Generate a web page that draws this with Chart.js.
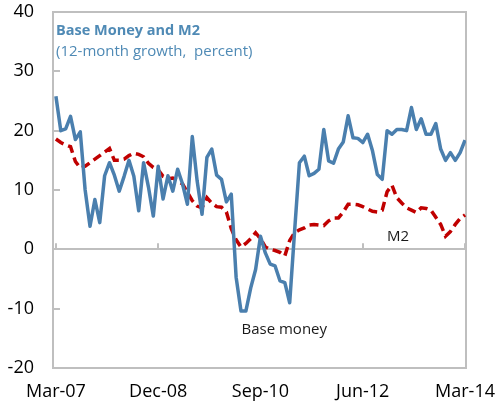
<!DOCTYPE html>
<html>
<head>
<meta charset="utf-8">
<script src="https://cdn.jsdelivr.net/npm/chart.js@4"></script>
<style>
  html, body { margin: 0; padding: 0; background: #fff; }
</style>
</head>
<body>
<canvas id="chart" width="501" height="408"></canvas>
<script>
// monthly, Mar-07 .. Mar-14 (85 months)
const tickLabels = ['Mar-07', 'Dec-08', 'Sep-10', 'Jun-12', 'Mar-14'];
const tickMonths = [0, 21, 42, 63, 84];

const baseMoney = [
  25.8, 20.0, 20.3, 22.4, 18.5, 19.8, 10.0, 3.9, 8.4, 4.5,
  12.4, 14.6, 12.5, 9.8, 12.3, 15.0, 12.3, 6.5, 14.6, 10.5,
  5.6, 14.0, 8.5, 12.4, 9.8, 13.5, 11.0, 7.6, 19.0, 11.5,
  5.9, 15.5, 16.9, 12.5, 11.8, 8.0, 9.3, -4.7, -10.4, -10.4,
  -6.5, -3.4, 2.2, -0.6, -2.5, -2.8, -5.3, -5.6, -9.0, 3.0,
  14.6, 15.7, 12.4, 12.8, 13.5, 20.2, 14.9, 14.5, 16.9, 18.1,
  22.5, 18.8, 18.7, 18.0, 19.4, 16.6, 12.6, 11.8, 20.0, 19.4,
  20.2, 20.2, 20.0, 23.9, 20.2, 22.0, 19.4, 19.4, 21.2, 16.9,
  15.0, 16.3, 15.0, 16.3, 18.4
];

const m2 = [
  18.6, 18.0, 17.6, 17.3, 14.8, 13.7, 14.0, 14.6, 15.2, 15.8,
  16.4, 17.0, 15.0, 15.0, 15.2, 15.8, 16.2, 16.0, 15.6, 14.5,
  13.8, 13.4, 12.3, 11.9, 12.0, 11.6, 11.0, 9.6, 8.2, 7.3,
  7.0, 8.7, 7.8, 7.2, 7.1, 6.3, 3.5, 1.6, 0.4, 1.0,
  1.8, 2.8, 1.8, 0.4, 0.0, -0.2, -0.5, -1.1, 1.5, 2.8,
  3.3, 3.6, 4.1, 4.2, 4.1, 4.0, 4.8, 5.3, 5.3, 6.3,
  7.6, 7.6, 7.5, 7.2, 6.8, 6.4, 6.3, 6.6, 9.7, 10.8,
  8.7, 7.8, 7.0, 6.6, 6.2, 7.0, 6.9, 6.6, 5.4, 4.2,
  2.2, 3.0, 4.2, 5.2, 5.8
];

const FONT = '"Open Sans", "DejaVu Sans", sans-serif';
const GREY = '#BFBFBF';

// frame, inner tick marks, title and line labels
const decorations = {
  id: 'decorations',
  beforeDatasetsDraw(chart) {
    const { ctx, chartArea: a, scales: { x, y } } = chart;
    ctx.save();
    ctx.strokeStyle = GREY;
    ctx.lineWidth = 2;
    ctx.strokeRect(a.left, a.top, a.right - a.left, a.bottom - a.top);
    ctx.beginPath();
    for (let v = -20; v <= 40; v += 10) {
      const py = Math.round(y.getPixelForValue(v));
      ctx.moveTo(a.left, py);
      ctx.lineTo(a.left + 7, py);
    }
    const y0 = y.getPixelForValue(0);
    tickMonths.forEach(m => {
      const px = Math.round(x.getPixelForValue(m));
      ctx.moveTo(px, y0);
      ctx.lineTo(px, y0 - 6);
    });
    ctx.stroke();
    ctx.restore();
  },
  afterDraw(chart) {
    const { ctx, chartArea: a, scales: { x, y } } = chart;
    ctx.save();
    ctx.textBaseline = 'alphabetic';
    ctx.textAlign = 'left';
    ctx.fillStyle = '#4F8AB5';
    ctx.font = 'bold 14.5px ' + FONT;
    ctx.fillText('Base Money and M2', a.left + 3, a.top + 23);
    ctx.font = '15px ' + FONT;
    ctx.fillText('(12-month growth,  percent)', a.left + 3, a.top + 44);

    ctx.fillStyle = '#1A1A1A';
    ctx.font = '15px ' + FONT;
    ctx.fillText('Base money', x.getPixelForValue(38.1), y.getPixelForValue(-14.3));
    ctx.fillText('M2', x.getPixelForValue(68), y.getPixelForValue(1.35));
    ctx.restore();
  }
};

const ctx = document.getElementById('chart').getContext('2d');
new Chart(ctx, {
  type: 'line',
  data: {
    datasets: [
      {
        label: 'Base money',
        data: baseMoney.map((v, i) => ({ x: i, y: v })),
        borderColor: '#4A7FAE',
        borderWidth: 3.5,
        borderJoinStyle: 'round',
        pointRadius: 0,
        tension: 0
      },
      {
        label: 'M2',
        data: m2.map((v, i) => ({ x: i, y: v })),
        borderColor: '#C00000',
        borderWidth: 3.5,
        borderDash: [9, 5],
        pointRadius: 0,
        tension: 0
      }
    ]
  },
  options: {
    responsive: false,
    animation: false,
    devicePixelRatio: 1,
    layout: { padding: { top: 12, right: 35, left: 0, bottom: 0 } },
    plugins: { legend: { display: false }, tooltip: { enabled: false } },
    scales: {
      x: {
        type: 'linear',
        min: -0.6,
        max: 84.2,
        afterBuildTicks: s => { s.ticks = tickMonths.map(v => ({ value: v })); },
        afterFit: s => { s.height = 40; },
        ticks: {
          callback: v => tickLabels[tickMonths.indexOf(v)],
          autoSkip: false,
          maxRotation: 0,
          padding: 5,
          color: '#000',
          font: { family: FONT, size: 18 }
        },
        grid: { display: false },
        border: { display: false }
      },
      y: {
        min: -20,
        max: 40,
        afterFit: s => {
          s.width = 53;
          // label padding is horizontal only; don't let it push the plot down
          s.paddingTop = 10;
          s.paddingBottom = 10;
        },
        ticks: {
          stepSize: 10,
          padding: 19,
          color: '#000',
          font: { family: FONT, size: 18 }
        },
        grid: {
          drawTicks: false,
          lineWidth: 2,
          color: c => (c.tick && c.tick.value === 0 ? GREY : 'rgba(0,0,0,0)')
        },
        border: { display: false }
      }
    }
  },
  plugins: [decorations]
});
</script>
</body>
</html>
